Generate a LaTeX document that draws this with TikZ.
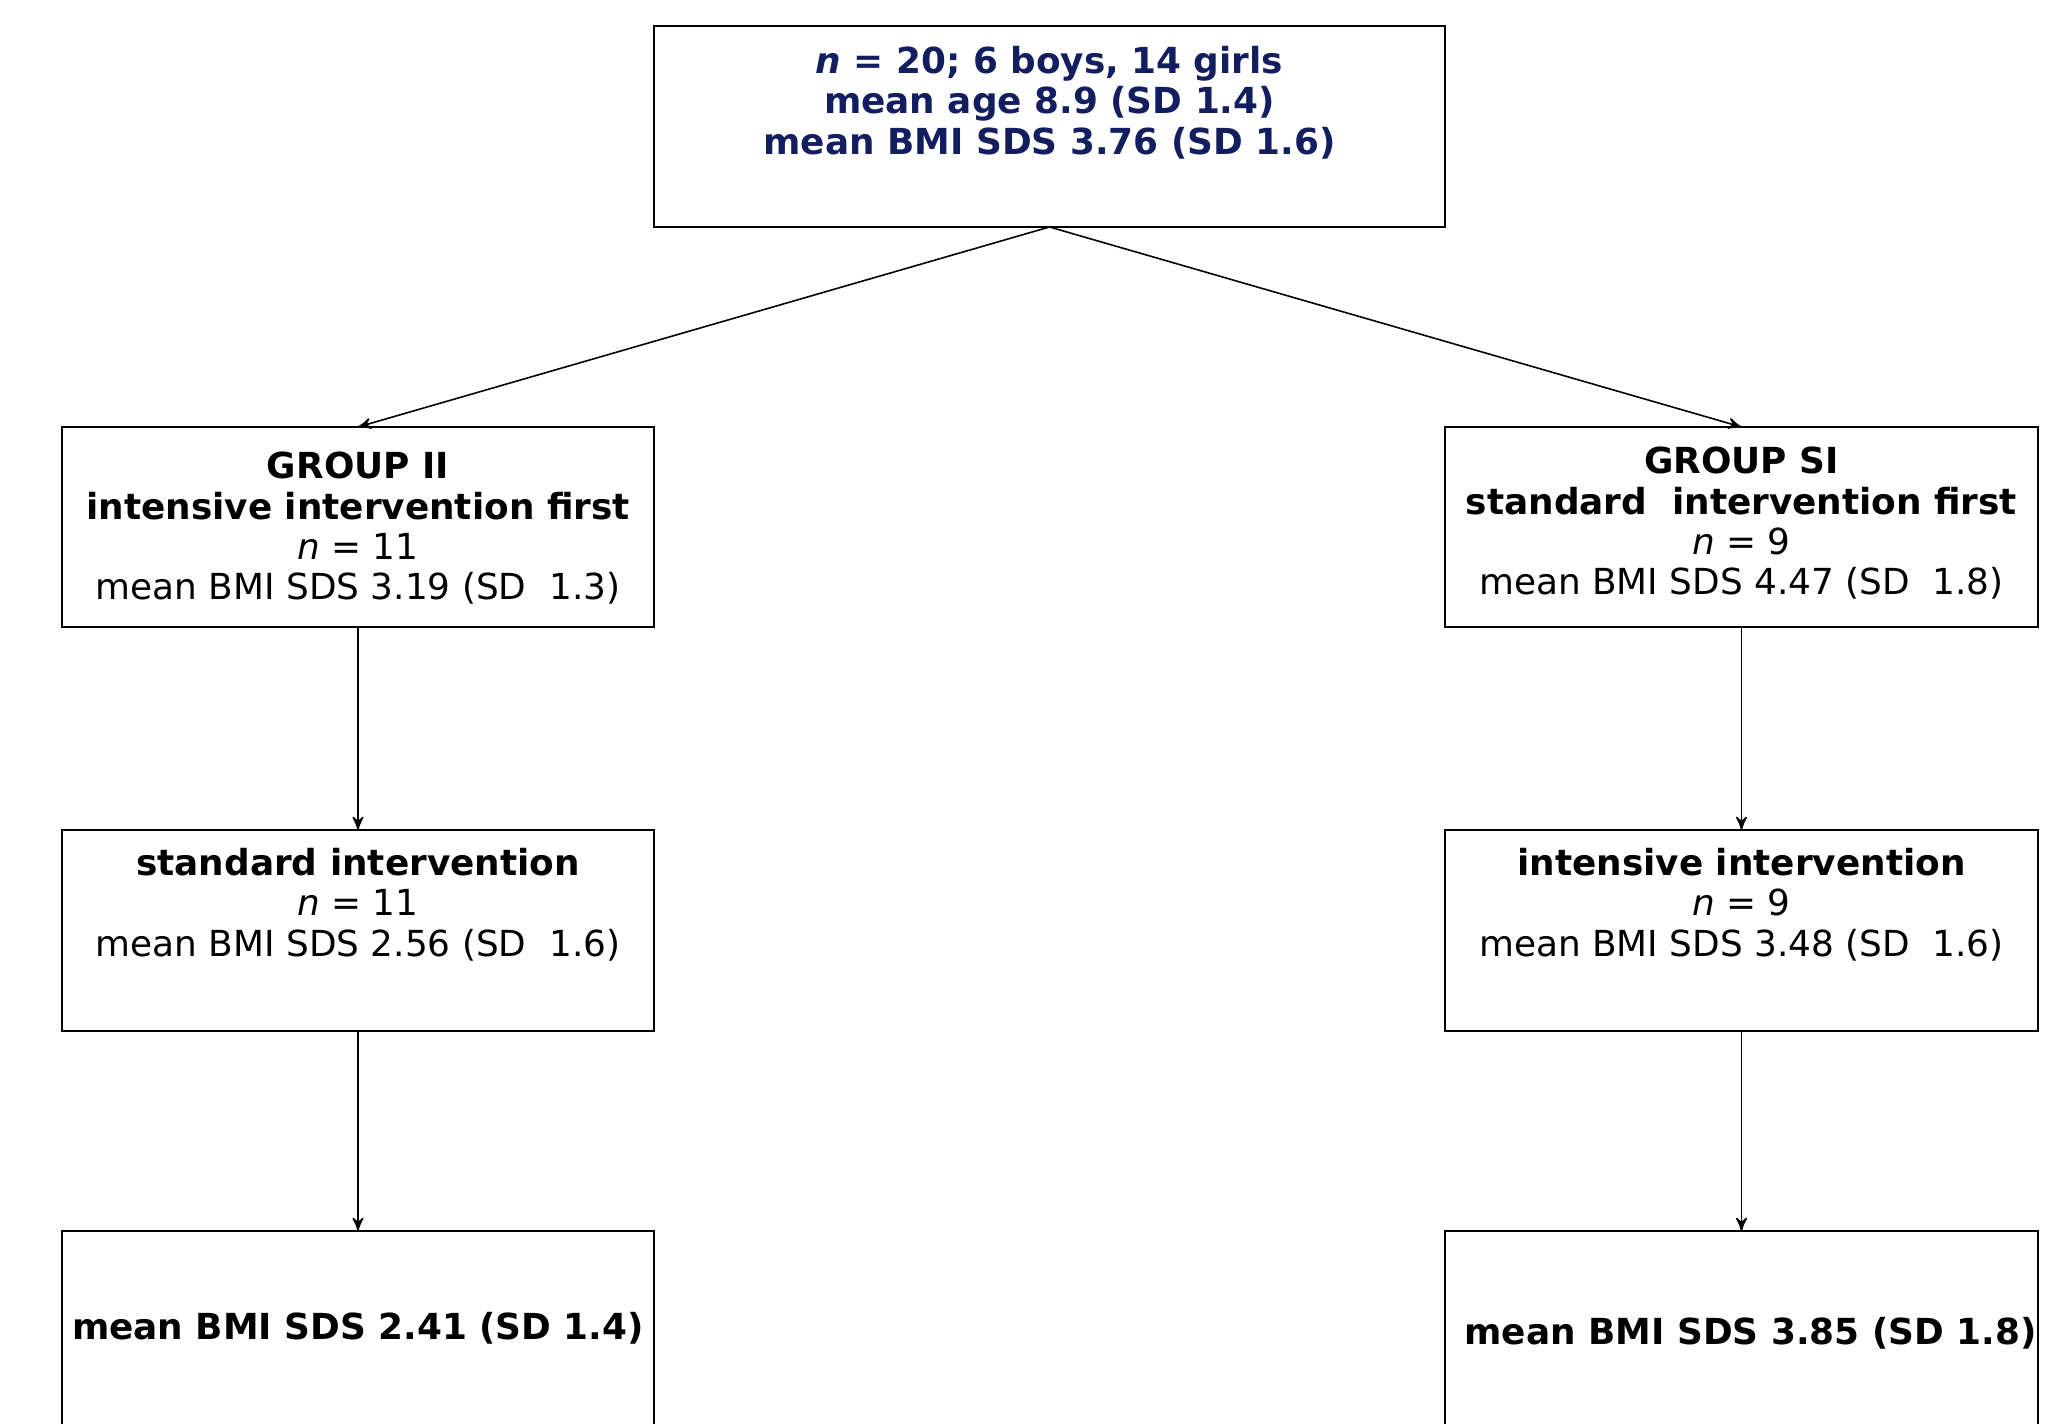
\documentclass[tikz,border=0pt]{standalone}
\usepackage{fontspec}
\setmainfont{DejaVu Sans}
\usetikzlibrary{arrows,positioning}
\definecolor{navytext}{RGB}{18,30,95}
\newcommand{\boxtxt}[4]{\parbox[t][#2][t]{#1}{\centering\vspace*{#3}#4}}

\begin{document}
\begin{tikzpicture}[->,>=stealth',line width=0.45pt,node distance=2cm,
    box/.style={rectangle,draw,line width=0.8pt,inner sep=0pt,outer sep=0pt,font=\fontsize{10.2}{11.5}\selectfont}]
  \useasboundingbox (0,0) rectangle (20.54,-14.24);

  \node[box,anchor=north,text=navytext] (all) at (10.495,-0.26) {\boxtxt{7.91cm}{2.01cm}{0.2cm}{\bfseries\textit{n} = 20; 6 boys, 14 girls\\ mean age 8.9 (SD 1.4)\\ mean BMI SDS 3.76 (SD 1.6)}};
  \node[box] (ii) [below left=2cm and 0cm of all] {\boxtxt{5.92cm}{2cm}{0.25cm}{\textbf{GROUP II}\\ \textbf{intensive intervention first}\\ \textit{n} = 11\\ mean BMI SDS 3.19 (SD\ \ 1.3)}};
  \node[box] (si) [below right=2cm and 0cm of all] {\boxtxt{5.93cm}{2cm}{0.2cm}{\textbf{GROUP SI}\\ \textbf{standard\ \ intervention first}\\ \textit{n} = 9\\ mean BMI SDS 4.47 (SD\ \ 1.8)}};
  \node[box] (iistd) [below=2.03cm of ii] {\boxtxt{5.92cm}{2.01cm}{0.18cm}{\textbf{standard intervention}\\ \textit{n} = 11\\ mean BMI SDS 2.56 (SD\ \ 1.6)}};
  \node[box] (siint) [below=2.03cm of si] {\boxtxt{5.93cm}{2.01cm}{0.18cm}{\textbf{intensive intervention}\\ \textit{n} = 9\\ mean BMI SDS 3.48 (SD\ \ 1.6)}};
  \node[box] (iiend) [below=of iistd] {\boxtxt{5.92cm}{2cm}{0.81cm}{\bfseries mean BMI SDS 2.41 (SD 1.4)}};
  \node[box] (siend) [below=of siint] {\boxtxt{5.93cm}{2cm}{0.86cm}{\bfseries\hspace*{0.18cm}mean BMI SDS 3.85 (SD 1.8)}};

  \path (all.south) edge (ii.north)
        (all.south) edge (si.north)
        (ii.south) edge (iistd.north)
        (si.south) edge (siint.north)
        (iistd.south) edge (iiend.north)
        (siint.south) edge (siend.north);

\end{tikzpicture}
\end{document}
